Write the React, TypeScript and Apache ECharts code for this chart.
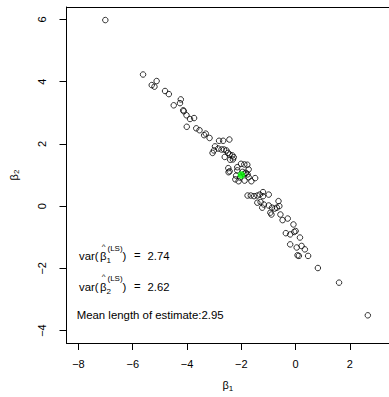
import React, { useEffect, useRef } from "react";
import * as echarts from "echarts";

const beta1: number[] = [
  -7.01, -5.62, -5.30, -5.20, -5.12, -4.81, -4.67, -4.23, -4.26, -4.49, -4.14, -4.12, -4.02, -3.89, -3.74, -4.01, -3.66, -3.54, -3.37, -3.31, -3.17, -2.82, -2.67, -2.44,
  -2.97, -3.01, -3.06, -2.85, -2.73, -2.64, -2.55, -2.49, -2.61, -2.43, -2.33, -2.28, -2.31, -2.41, -2.48, -2.47, -2.43,
  -2.01, -1.89, -1.78, -1.73, -1.83, -2.15, -2.19, -2.22, -2.10, -1.88, -1.73, -1.63, -1.49, -2.15, -1.89, -1.77, -2.05, -1.95,
  -1.77, -1.65, -1.53, -1.41, -1.32, -1.20, -1.20, -0.99, -1.41, -1.29, -1.17, -1.23, -0.99, -0.87, -0.77, -0.69, -0.60, -0.63,
  -0.93, -0.89, -0.56, -0.48, -0.29, -0.08, -0.36, -0.20, -0.05, 0.00, 0.16, -0.20, 0.04, 0.22, 0.34, 0.07, 0.12, 0.46,
  0.82, 1.60, 2.66,
];
const beta2: number[] = [
  5.98, 4.23, 3.89, 3.84, 4.02, 3.70, 3.60, 3.43, 3.31, 3.24, 3.08, 3.05, 2.92, 2.80, 2.83, 2.55, 2.50, 2.44, 2.28, 2.33, 2.19, 2.10, 2.10, 2.14,
  1.92, 1.79, 1.71, 1.85, 1.82, 1.82, 1.79, 1.71, 1.58, 1.66, 1.63, 1.57, 1.50, 1.49, 1.22, 1.09, 1.12,
  1.36, 1.34, 1.33, 1.18, 1.07, 1.15, 0.98, 0.86, 0.80, 0.82, 0.93, 0.80, 0.90, 1.25, 1.04, 1.02, 0.92, 1.10,
  0.34, 0.34, 0.32, 0.34, 0.37, 0.45, 0.32, 0.37, 0.11, 0.13, 0.05, -0.05, 0.02, -0.05, -0.08, -0.05, 0.00, 0.16,
  -0.21, -0.27, -0.27, -0.45, -0.40, -0.59, -0.87, -0.91, -0.83, -0.80, -1.01, -1.23, -1.33, -1.28, -1.39, -1.58, -1.60, -1.60,
  -1.99, -2.46, -3.51,
];
const trueBeta: number[] = [-2, 1];
const xTicks: number[] = [-8, -6, -4, -2, 0, 2];
const yTicks: number[] = [-4, -2, 0, 2, 4, 6];
const varValues: string[] = ["2.74", "2.62"];
const varSubs: string[] = ["1", "2"];
const meanLength = "2.95";

const FONT = "Liberation Sans, Arial, Helvetica, sans-serif";
const X_MIN = -8.44, X_MAX = 3.44, Y_MIN = -4.4, Y_MAX = 6.4;

export default function App() {
  const ref = useRef<HTMLDivElement>(null);
  useEffect(() => {
    if (!ref.current) return;
    const chart = echarts.init(ref.current, null, { renderer: "svg" });
    const pts = beta1.map((x, i) => [x, beta2[i]]);
    const ts = { fontFamily: FONT, fill: "#000" };
    const graphics: any[] = [];
    varValues.forEach((v, i) => {
      const y = 256 + i * 30.7;
      graphics.push(
        { type: "text", x: 79, y, style: { ...ts, text: "var(", fontSize: 11.3, verticalAlign: "middle" } },
        { type: "text", x: 100, y, style: { ...ts, text: "β", fontSize: 11.3, verticalAlign: "middle" } },
        { type: "text", x: 103.6, y: y - 10, style: { ...ts, text: "^", fontSize: 8, align: "center", verticalAlign: "middle" } },
        { type: "text", x: 106.6, y: y + 4.5, style: { ...ts, text: varSubs[i], fontSize: 8, verticalAlign: "middle" } },
        { type: "text", x: 107.5, y: y - 8, style: { ...ts, text: "(LS)", fontSize: 8, verticalAlign: "middle" } },
        { type: "text", x: 122.5, y, style: { ...ts, text: ")", fontSize: 11.3, verticalAlign: "middle" } },
        { type: "text", x: 134, y: y - 1, style: { ...ts, text: "=", fontSize: 11.3, verticalAlign: "middle" } },
        { type: "text", x: 147.5, y, style: { ...ts, text: v, fontSize: 11.3, verticalAlign: "middle" } }
      );
    });
    graphics.push({
      type: "text",
      x: 76.7,
      y: 315,
      style: { ...ts, text: "Mean length of estimate:" + meanLength, fontSize: 11.4, verticalAlign: "middle" },
    });

    const fmt = (v: number) => (v < 0 ? "\u2212" + Math.abs(v) : String(v));
    const lineOnly = (pos: string, isX: boolean) => ({
      type: "value",
      position: pos,
      min: isX ? X_MIN : Y_MIN,
      max: isX ? X_MAX : Y_MAX,
      axisLine: { show: true, onZero: false, lineStyle: { color: "#000", width: 1 } },
      axisTick: { show: false },
      axisLabel: { show: false },
      splitLine: { show: false },
    });

    chart.setOption({
      animation: false,
      backgroundColor: "#fff",
      grid: { left: 64, top: 7, width: 328.5, height: 337 },
      xAxis: [
        {
          type: "value",
          position: "bottom",
          min: X_MIN,
          max: X_MAX,
          axisLine: { show: true, onZero: false, lineStyle: { color: "#000", width: 1 } },
          splitLine: { show: false },
          axisTick: { show: true, length: 7, customValues: xTicks, lineStyle: { color: "#000" } },
          axisLabel: {
            customValues: xTicks,
            margin: 15,
            fontSize: 11,
            fontFamily: FONT,
            color: "#000",
            formatter: fmt,
          },
          name: "{b|β}{s|1}",
          nameLocation: "middle",
          nameGap: 35,
          nameTextStyle: {
            rich: {
              b: { fontSize: 11, fontFamily: FONT, color: "#000" },
              s: { fontSize: 8, fontFamily: FONT, color: "#000", padding: [6, 0, 0, 0] },
            },
          },
        },
        lineOnly("top", true),
      ],
      yAxis: [
        {
          type: "value",
          position: "left",
          min: Y_MIN,
          max: Y_MAX,
          axisLine: { show: true, onZero: false, lineStyle: { color: "#000", width: 1 } },
          splitLine: { show: false },
          axisTick: { show: true, length: 7, customValues: yTicks, lineStyle: { color: "#000" } },
          axisLabel: {
            customValues: yTicks,
            rotate: 90,
            margin: 19,
            fontSize: 11,
            fontFamily: FONT,
            color: "#000",
            formatter: fmt,
          },
          name: "{b|β}{s|2}",
          nameLocation: "middle",
          nameRotate: 90,
          nameGap: 46,
          nameTextStyle: {
            rich: {
              b: { fontSize: 11, fontFamily: FONT, color: "#000" },
              s: { fontSize: 8, fontFamily: FONT, color: "#000", padding: [6, 0, 0, 0] },
            },
          },
        },
        lineOnly("right", false),
      ],
      series: [
        {
          type: "scatter",
          data: pts,
          symbol: "circle",
          symbolSize: 5.5,
          itemStyle: { color: "rgba(0,0,0,0)", borderColor: "#000", borderWidth: 1 },
          emphasis: { disabled: true },
        },
        {
          type: "scatter",
          data: [trueBeta],
          symbol: "circle",
          symbolSize: 7,
          itemStyle: { color: "#00ff00", borderColor: "#00ff00", borderWidth: 0.5 },
          emphasis: { disabled: true },
          z: 5,
        },
      ],
      graphic: graphics,
    });
    return () => chart.dispose();
  }, []);
  return (
    <div
      ref={ref}
      style={{ position: "fixed", left: 0, top: 0, width: 389, height: 397, background: "#fff" }}
    />
  );
}
